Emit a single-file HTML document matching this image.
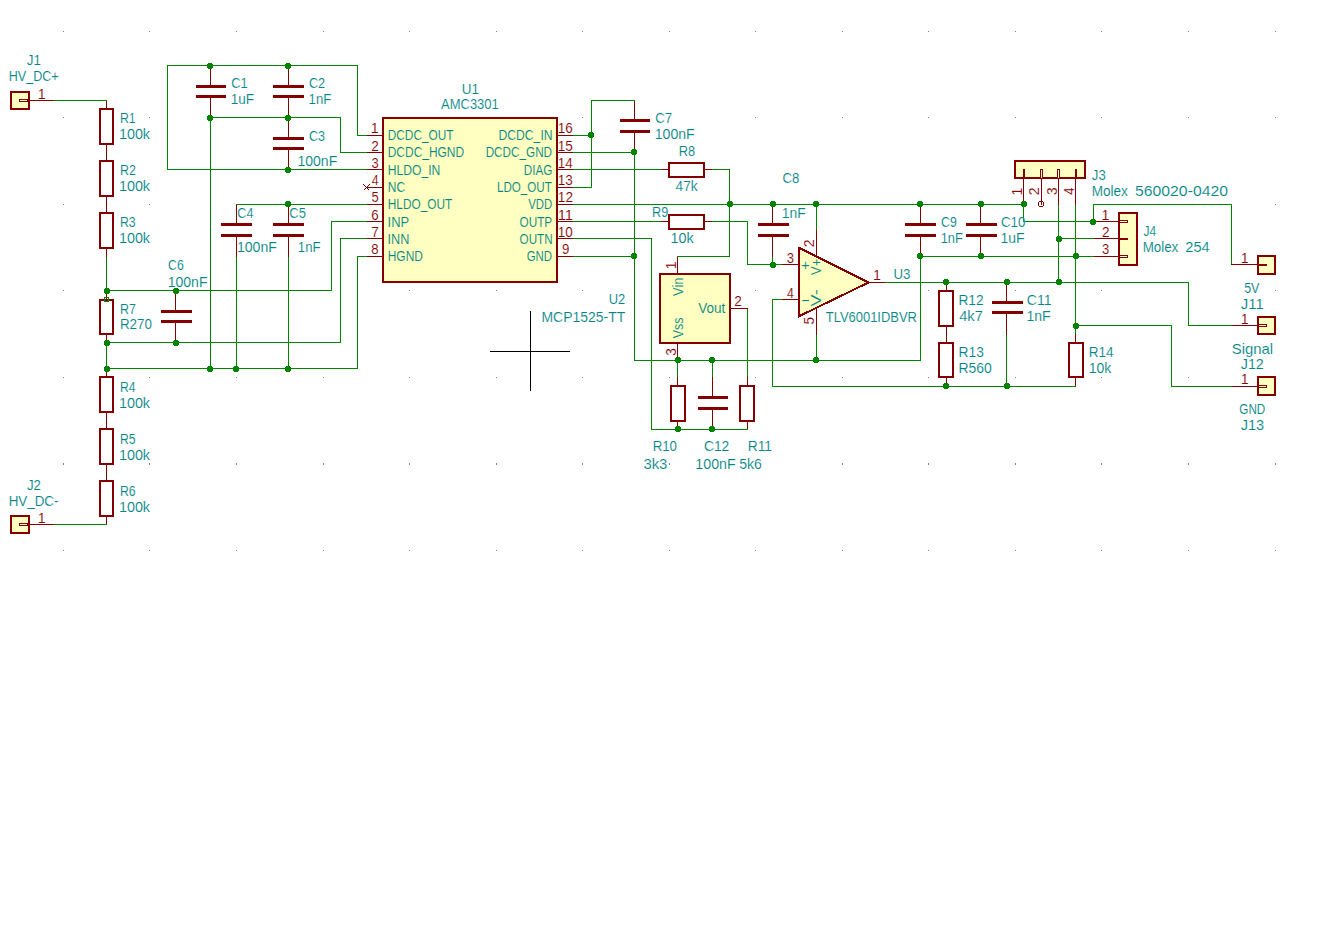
<!DOCTYPE html>
<html lang="en">
<head>
<meta charset="utf-8">
<title>Schematic</title>
<style>
html,body{margin:0;padding:0;background:#fff;}
body{width:1337px;height:929px;overflow:hidden;}
svg{display:block;}
text{white-space:pre;}
</style>
</head>
<body>
<svg width="1337" height="929" viewBox="0 0 1337 929" shape-rendering="crispEdges">
<rect width="1337" height="929" fill="#ffffff"/>
<g fill="#848484">
<rect x="63" y="31" width="1" height="1"/>
<rect x="149" y="31" width="1" height="1"/>
<rect x="236" y="31" width="1" height="1"/>
<rect x="323" y="31" width="1" height="1"/>
<rect x="409" y="31" width="1" height="1"/>
<rect x="496" y="31" width="1" height="1"/>
<rect x="582" y="31" width="1" height="1"/>
<rect x="669" y="31" width="1" height="1"/>
<rect x="755" y="31" width="1" height="1"/>
<rect x="842" y="31" width="1" height="1"/>
<rect x="928" y="31" width="1" height="1"/>
<rect x="1015" y="31" width="1" height="1"/>
<rect x="1101" y="31" width="1" height="1"/>
<rect x="1188" y="31" width="1" height="1"/>
<rect x="1275" y="31" width="1" height="1"/>
<rect x="63" y="117" width="1" height="1"/>
<rect x="149" y="117" width="1" height="1"/>
<rect x="236" y="117" width="1" height="1"/>
<rect x="323" y="117" width="1" height="1"/>
<rect x="409" y="117" width="1" height="1"/>
<rect x="496" y="117" width="1" height="1"/>
<rect x="582" y="117" width="1" height="1"/>
<rect x="669" y="117" width="1" height="1"/>
<rect x="755" y="117" width="1" height="1"/>
<rect x="842" y="117" width="1" height="1"/>
<rect x="928" y="117" width="1" height="1"/>
<rect x="1015" y="117" width="1" height="1"/>
<rect x="1101" y="117" width="1" height="1"/>
<rect x="1188" y="117" width="1" height="1"/>
<rect x="1275" y="117" width="1" height="1"/>
<rect x="63" y="204" width="1" height="1"/>
<rect x="149" y="204" width="1" height="1"/>
<rect x="236" y="204" width="1" height="1"/>
<rect x="323" y="204" width="1" height="1"/>
<rect x="409" y="204" width="1" height="1"/>
<rect x="496" y="204" width="1" height="1"/>
<rect x="582" y="204" width="1" height="1"/>
<rect x="669" y="204" width="1" height="1"/>
<rect x="755" y="204" width="1" height="1"/>
<rect x="842" y="204" width="1" height="1"/>
<rect x="928" y="204" width="1" height="1"/>
<rect x="1015" y="204" width="1" height="1"/>
<rect x="1101" y="204" width="1" height="1"/>
<rect x="1188" y="204" width="1" height="1"/>
<rect x="1275" y="204" width="1" height="1"/>
<rect x="63" y="290" width="1" height="1"/>
<rect x="149" y="290" width="1" height="1"/>
<rect x="236" y="290" width="1" height="1"/>
<rect x="323" y="290" width="1" height="1"/>
<rect x="409" y="290" width="1" height="1"/>
<rect x="496" y="290" width="1" height="1"/>
<rect x="582" y="290" width="1" height="1"/>
<rect x="669" y="290" width="1" height="1"/>
<rect x="755" y="290" width="1" height="1"/>
<rect x="842" y="290" width="1" height="1"/>
<rect x="928" y="290" width="1" height="1"/>
<rect x="1015" y="290" width="1" height="1"/>
<rect x="1101" y="290" width="1" height="1"/>
<rect x="1188" y="290" width="1" height="1"/>
<rect x="1275" y="290" width="1" height="1"/>
<rect x="63" y="377" width="1" height="1"/>
<rect x="149" y="377" width="1" height="1"/>
<rect x="236" y="377" width="1" height="1"/>
<rect x="323" y="377" width="1" height="1"/>
<rect x="409" y="377" width="1" height="1"/>
<rect x="496" y="377" width="1" height="1"/>
<rect x="582" y="377" width="1" height="1"/>
<rect x="669" y="377" width="1" height="1"/>
<rect x="755" y="377" width="1" height="1"/>
<rect x="842" y="377" width="1" height="1"/>
<rect x="928" y="377" width="1" height="1"/>
<rect x="1015" y="377" width="1" height="1"/>
<rect x="1101" y="377" width="1" height="1"/>
<rect x="1188" y="377" width="1" height="1"/>
<rect x="1275" y="377" width="1" height="1"/>
<rect x="63" y="463" width="1" height="2"/>
<rect x="149" y="463" width="1" height="2"/>
<rect x="236" y="463" width="1" height="2"/>
<rect x="323" y="463" width="1" height="2"/>
<rect x="409" y="463" width="1" height="2"/>
<rect x="496" y="463" width="1" height="2"/>
<rect x="582" y="463" width="1" height="2"/>
<rect x="669" y="463" width="1" height="2"/>
<rect x="755" y="463" width="1" height="2"/>
<rect x="842" y="463" width="1" height="2"/>
<rect x="928" y="463" width="1" height="2"/>
<rect x="1015" y="463" width="1" height="2"/>
<rect x="1101" y="463" width="1" height="2"/>
<rect x="1188" y="463" width="1" height="2"/>
<rect x="1275" y="463" width="1" height="2"/>
<rect x="63" y="550" width="1" height="1"/>
<rect x="149" y="550" width="1" height="1"/>
<rect x="236" y="550" width="1" height="1"/>
<rect x="323" y="550" width="1" height="1"/>
<rect x="409" y="550" width="1" height="1"/>
<rect x="496" y="550" width="1" height="1"/>
<rect x="582" y="550" width="1" height="1"/>
<rect x="669" y="550" width="1" height="1"/>
<rect x="755" y="550" width="1" height="1"/>
<rect x="842" y="550" width="1" height="1"/>
<rect x="928" y="550" width="1" height="1"/>
<rect x="1015" y="550" width="1" height="1"/>
<rect x="1101" y="550" width="1" height="1"/>
<rect x="1188" y="550" width="1" height="1"/>
<rect x="1275" y="550" width="1" height="1"/>
</g>
<rect x="490" y="351" width="80" height="1" fill="#000000"/>
<rect x="530" y="311" width="1" height="80" fill="#000000"/>
<rect x="106" y="256" width="1" height="35" fill="#008400"/>
<rect x="331" y="221" width="1" height="70" fill="#008400"/>
<rect x="340" y="238" width="1" height="105" fill="#008400"/>
<rect x="106" y="342" width="1" height="27" fill="#008400"/>
<rect x="357" y="256" width="1" height="113" fill="#008400"/>
<rect x="210" y="117" width="1" height="252" fill="#008400"/>
<rect x="167" y="65" width="1" height="105" fill="#008400"/>
<rect x="357" y="65" width="1" height="71" fill="#008400"/>
<rect x="340" y="117" width="1" height="36" fill="#008400"/>
<rect x="236" y="256" width="1" height="113" fill="#008400"/>
<rect x="288" y="256" width="1" height="113" fill="#008400"/>
<rect x="591" y="100" width="1" height="88" fill="#008400"/>
<rect x="634" y="152" width="1" height="209" fill="#008400"/>
<rect x="920" y="256" width="1" height="105" fill="#008400"/>
<rect x="729" y="169" width="1" height="88" fill="#008400"/>
<rect x="747" y="221" width="1" height="44" fill="#008400"/>
<rect x="651" y="238" width="1" height="192" fill="#008400"/>
<rect x="772" y="256" width="1" height="9" fill="#008400"/>
<rect x="747" y="308" width="1" height="70" fill="#008400"/>
<rect x="677" y="360" width="1" height="18" fill="#008400"/>
<rect x="712" y="360" width="1" height="18" fill="#008400"/>
<rect x="816" y="204" width="1" height="27" fill="#008400"/>
<rect x="816" y="334" width="1" height="27" fill="#008400"/>
<rect x="772" y="299" width="1" height="88" fill="#008400"/>
<rect x="1188" y="282" width="1" height="44" fill="#008400"/>
<rect x="1006" y="334" width="1" height="53" fill="#008400"/>
<rect x="1023" y="204" width="1" height="18" fill="#008400"/>
<rect x="1093" y="204" width="1" height="18" fill="#008400"/>
<rect x="1231" y="204" width="1" height="61" fill="#008400"/>
<rect x="1058" y="204" width="1" height="79" fill="#008400"/>
<rect x="1075" y="204" width="1" height="131" fill="#008400"/>
<rect x="1171" y="325" width="1" height="62" fill="#008400"/>
<rect x="106" y="100" width="1" height="53" fill="#840000"/>
<rect x="100" y="109" width="13" height="35" fill="#ffffff" stroke="#840000" stroke-width="2"/>
<rect x="106" y="152" width="1" height="53" fill="#840000"/>
<rect x="100" y="161" width="13" height="35" fill="#ffffff" stroke="#840000" stroke-width="2"/>
<rect x="106" y="204" width="1" height="53" fill="#840000"/>
<rect x="100" y="213" width="13" height="35" fill="#ffffff" stroke="#840000" stroke-width="2"/>
<rect x="106" y="290" width="1" height="53" fill="#840000"/>
<rect x="100" y="300" width="13" height="34" fill="#ffffff" stroke="#840000" stroke-width="2"/>
<rect x="106" y="368" width="1" height="53" fill="#840000"/>
<rect x="100" y="377" width="13" height="35" fill="#ffffff" stroke="#840000" stroke-width="2"/>
<rect x="106" y="420" width="1" height="53" fill="#840000"/>
<rect x="100" y="429" width="13" height="35" fill="#ffffff" stroke="#840000" stroke-width="2"/>
<rect x="106" y="472" width="1" height="53" fill="#840000"/>
<rect x="100" y="481" width="13" height="35" fill="#ffffff" stroke="#840000" stroke-width="2"/>
<rect x="677" y="377" width="1" height="53" fill="#840000"/>
<rect x="671" y="386" width="14" height="35" fill="#ffffff" stroke="#840000" stroke-width="2"/>
<rect x="747" y="377" width="1" height="53" fill="#840000"/>
<rect x="740" y="386" width="14" height="35" fill="#ffffff" stroke="#840000" stroke-width="2"/>
<rect x="946" y="282" width="1" height="53" fill="#840000"/>
<rect x="939" y="291" width="14" height="35" fill="#ffffff" stroke="#840000" stroke-width="2"/>
<rect x="946" y="334" width="1" height="53" fill="#840000"/>
<rect x="939" y="343" width="14" height="34" fill="#ffffff" stroke="#840000" stroke-width="2"/>
<rect x="1075" y="334" width="1" height="53" fill="#840000"/>
<rect x="1069" y="343" width="14" height="34" fill="#ffffff" stroke="#840000" stroke-width="2"/>
<rect x="660" y="169" width="53" height="1" fill="#840000"/>
<rect x="669" y="163" width="35" height="14" fill="#ffffff" stroke="#840000" stroke-width="2"/>
<rect x="660" y="221" width="53" height="1" fill="#840000"/>
<rect x="669" y="215" width="35" height="14" fill="#ffffff" stroke="#840000" stroke-width="2"/>
<rect x="210" y="65" width="1" height="21" fill="#840000"/>
<rect x="210" y="96" width="1" height="22" fill="#840000"/>
<rect x="196" y="85" width="30" height="3" fill="#840000"/>
<rect x="196" y="95" width="30" height="3" fill="#840000"/>
<rect x="288" y="65" width="1" height="21" fill="#840000"/>
<rect x="288" y="96" width="1" height="22" fill="#840000"/>
<rect x="273" y="85" width="31" height="3" fill="#840000"/>
<rect x="273" y="95" width="31" height="3" fill="#840000"/>
<rect x="288" y="117" width="1" height="21" fill="#840000"/>
<rect x="288" y="148" width="1" height="22" fill="#840000"/>
<rect x="273" y="137" width="31" height="3" fill="#840000"/>
<rect x="273" y="147" width="31" height="3" fill="#840000"/>
<rect x="236" y="204" width="1" height="20" fill="#840000"/>
<rect x="236" y="235" width="1" height="22" fill="#840000"/>
<rect x="221" y="223" width="31" height="3" fill="#840000"/>
<rect x="221" y="234" width="31" height="3" fill="#840000"/>
<rect x="288" y="204" width="1" height="20" fill="#840000"/>
<rect x="288" y="235" width="1" height="22" fill="#840000"/>
<rect x="273" y="223" width="31" height="3" fill="#840000"/>
<rect x="273" y="234" width="31" height="3" fill="#840000"/>
<rect x="175" y="290" width="1" height="21" fill="#840000"/>
<rect x="175" y="321" width="1" height="22" fill="#840000"/>
<rect x="161" y="310" width="31" height="3" fill="#840000"/>
<rect x="161" y="320" width="31" height="3" fill="#840000"/>
<rect x="634" y="100" width="1" height="20" fill="#840000"/>
<rect x="634" y="131" width="1" height="22" fill="#840000"/>
<rect x="620" y="119" width="30" height="3" fill="#840000"/>
<rect x="620" y="130" width="30" height="3" fill="#840000"/>
<rect x="772" y="204" width="1" height="20" fill="#840000"/>
<rect x="772" y="235" width="1" height="22" fill="#840000"/>
<rect x="758" y="223" width="31" height="3" fill="#840000"/>
<rect x="758" y="234" width="31" height="3" fill="#840000"/>
<rect x="712" y="377" width="1" height="20" fill="#840000"/>
<rect x="712" y="408" width="1" height="22" fill="#840000"/>
<rect x="698" y="396" width="30" height="3" fill="#840000"/>
<rect x="698" y="407" width="30" height="3" fill="#840000"/>
<rect x="920" y="204" width="1" height="20" fill="#840000"/>
<rect x="920" y="235" width="1" height="22" fill="#840000"/>
<rect x="905" y="223" width="31" height="3" fill="#840000"/>
<rect x="905" y="234" width="31" height="3" fill="#840000"/>
<rect x="980" y="204" width="1" height="20" fill="#840000"/>
<rect x="980" y="235" width="1" height="22" fill="#840000"/>
<rect x="966" y="223" width="31" height="3" fill="#840000"/>
<rect x="966" y="234" width="31" height="3" fill="#840000"/>
<rect x="1006" y="282" width="1" height="20" fill="#840000"/>
<rect x="1006" y="312" width="1" height="23" fill="#840000"/>
<rect x="992" y="301" width="31" height="3" fill="#840000"/>
<rect x="992" y="311" width="31" height="3" fill="#840000"/>
<rect x="28" y="100" width="27" height="1" fill="#840000"/>
<rect x="11" y="92" width="18" height="17" fill="#ffffc2" stroke="#840000" stroke-width="2"/>
<rect x="19.5" y="99.5" width="8" height="2" fill="#ffffe0" stroke="#840000" stroke-width="1"/>
<rect x="28" y="524" width="27" height="1" fill="#840000"/>
<rect x="11" y="516" width="18" height="17" fill="#ffffc2" stroke="#840000" stroke-width="2"/>
<rect x="19.5" y="523.5" width="8" height="2" fill="#ffffe0" stroke="#840000" stroke-width="1"/>
<rect x="1231" y="264" width="27" height="1" fill="#840000"/>
<rect x="1258" y="256" width="17" height="18" fill="#ffffc2" stroke="#840000" stroke-width="2"/>
<rect x="1258" y="264" width="9" height="2" fill="#840000"/>
<rect x="1231" y="325" width="27" height="1" fill="#840000"/>
<rect x="1258" y="317" width="17" height="17" fill="#ffffc2" stroke="#840000" stroke-width="2"/>
<rect x="1258.5" y="324.5" width="8" height="2" fill="#ffffe0" stroke="#840000" stroke-width="1"/>
<rect x="1231" y="386" width="27" height="1" fill="#840000"/>
<rect x="1258" y="377" width="17" height="18" fill="#ffffc2" stroke="#840000" stroke-width="2"/>
<rect x="1258.5" y="385.5" width="8" height="2" fill="#ffffe0" stroke="#840000" stroke-width="1"/>
<rect x="383" y="118" width="174" height="164" fill="#ffffc2" stroke="#840000" stroke-width="2"/>
<rect x="366" y="135" width="17" height="1" fill="#840000"/>
<rect x="557" y="135" width="17" height="1" fill="#840000"/>
<rect x="366" y="152" width="17" height="1" fill="#840000"/>
<rect x="557" y="152" width="17" height="1" fill="#840000"/>
<rect x="366" y="169" width="17" height="1" fill="#840000"/>
<rect x="557" y="169" width="17" height="1" fill="#840000"/>
<rect x="366" y="187" width="17" height="1" fill="#840000"/>
<rect x="557" y="187" width="17" height="1" fill="#840000"/>
<rect x="366" y="204" width="17" height="1" fill="#840000"/>
<rect x="557" y="204" width="17" height="1" fill="#840000"/>
<rect x="366" y="221" width="17" height="1" fill="#840000"/>
<rect x="557" y="221" width="17" height="1" fill="#840000"/>
<rect x="366" y="238" width="17" height="1" fill="#840000"/>
<rect x="557" y="238" width="17" height="1" fill="#840000"/>
<rect x="366" y="256" width="17" height="1" fill="#840000"/>
<rect x="557" y="256" width="17" height="1" fill="#840000"/>
<path d="M363.5 184.5l6 6m0 -6l-6 6" stroke="#840000" stroke-width="1" fill="none"/>
<rect x="660" y="274" width="70" height="69" fill="#ffffc2" stroke="#840000" stroke-width="2"/>
<rect x="677" y="256" width="1" height="18" fill="#840000"/>
<rect x="677" y="342" width="1" height="19" fill="#840000"/>
<rect x="729" y="308" width="19" height="1" fill="#840000"/>
<rect x="781" y="264" width="18" height="1" fill="#840000"/>
<rect x="781" y="299" width="18" height="1" fill="#840000"/>
<rect x="868" y="282" width="18" height="1" fill="#840000"/>
<rect x="816" y="230" width="1" height="27" fill="#840000"/>
<rect x="816" y="308" width="1" height="27" fill="#840000"/>
<path d="M798.5 247.5L868.5 282.5L798.5 316.5Z" fill="#ffffc2" stroke="#840000" stroke-width="2" stroke-linejoin="round"/>
<rect x="1015" y="161" width="70" height="17" fill="#ffffc2" stroke="#840000" stroke-width="2"/>
<rect x="1023" y="178" width="1" height="27" fill="#840000"/>
<rect x="1023" y="169" width="2" height="10" fill="#840000"/>
<rect x="1041" y="178" width="1" height="27" fill="#840000"/>
<rect x="1040.5" y="169.5" width="2" height="9" fill="#ffffe0" stroke="#840000" stroke-width="1"/>
<rect x="1058" y="178" width="1" height="27" fill="#840000"/>
<rect x="1057.5" y="169.5" width="2" height="9" fill="#ffffe0" stroke="#840000" stroke-width="1"/>
<rect x="1075" y="178" width="1" height="27" fill="#840000"/>
<rect x="1075" y="169" width="2" height="10" fill="#840000"/>
<path d="M1039 201h4v1h1v4h-1v1h-4v-1h-1v-4h1zm0 1v4h4v-4z" fill="#840000" fill-rule="evenodd"/>
<rect x="1119" y="213" width="18" height="52" fill="#ffffc2" stroke="#840000" stroke-width="2"/>
<rect x="1093" y="221" width="27" height="1" fill="#840000"/>
<rect x="1119.5" y="220.5" width="8" height="2" fill="#ffffe0" stroke="#840000" stroke-width="1"/>
<rect x="1093" y="238" width="27" height="1" fill="#840000"/>
<rect x="1119" y="238" width="9" height="2" fill="#840000"/>
<rect x="1093" y="256" width="27" height="1" fill="#840000"/>
<rect x="1119.5" y="255.5" width="8" height="2" fill="#ffffe0" stroke="#840000" stroke-width="1"/>
<rect x="104.5" y="297.5" width="4" height="4" fill="none" stroke="#008400" stroke-width="1"/>
<rect x="54" y="100" width="53" height="1" fill="#008400"/>
<rect x="106" y="290" width="226" height="1" fill="#008400"/>
<rect x="331" y="221" width="36" height="1" fill="#008400"/>
<rect x="106" y="342" width="235" height="1" fill="#008400"/>
<rect x="340" y="238" width="27" height="1" fill="#008400"/>
<rect x="106" y="368" width="252" height="1" fill="#008400"/>
<rect x="357" y="256" width="10" height="1" fill="#008400"/>
<rect x="54" y="524" width="53" height="1" fill="#008400"/>
<rect x="167" y="65" width="191" height="1" fill="#008400"/>
<rect x="357" y="135" width="10" height="1" fill="#008400"/>
<rect x="167" y="169" width="200" height="1" fill="#008400"/>
<rect x="210" y="117" width="131" height="1" fill="#008400"/>
<rect x="340" y="152" width="27" height="1" fill="#008400"/>
<rect x="236" y="204" width="131" height="1" fill="#008400"/>
<rect x="573" y="135" width="19" height="1" fill="#008400"/>
<rect x="573" y="187" width="19" height="1" fill="#008400"/>
<rect x="591" y="100" width="44" height="1" fill="#008400"/>
<rect x="573" y="152" width="62" height="1" fill="#008400"/>
<rect x="634" y="360" width="287" height="1" fill="#008400"/>
<rect x="573" y="256" width="62" height="1" fill="#008400"/>
<rect x="573" y="169" width="88" height="1" fill="#008400"/>
<rect x="712" y="169" width="18" height="1" fill="#008400"/>
<rect x="677" y="256" width="53" height="1" fill="#008400"/>
<rect x="573" y="204" width="451" height="1" fill="#008400"/>
<rect x="573" y="221" width="88" height="1" fill="#008400"/>
<rect x="712" y="221" width="36" height="1" fill="#008400"/>
<rect x="747" y="264" width="35" height="1" fill="#008400"/>
<rect x="573" y="238" width="79" height="1" fill="#008400"/>
<rect x="651" y="429" width="97" height="1" fill="#008400"/>
<rect x="772" y="299" width="10" height="1" fill="#008400"/>
<rect x="772" y="386" width="304" height="1" fill="#008400"/>
<rect x="885" y="282" width="304" height="1" fill="#008400"/>
<rect x="1188" y="325" width="44" height="1" fill="#008400"/>
<rect x="920" y="256" width="174" height="1" fill="#008400"/>
<rect x="1023" y="221" width="71" height="1" fill="#008400"/>
<rect x="1093" y="204" width="139" height="1" fill="#008400"/>
<rect x="1058" y="238" width="36" height="1" fill="#008400"/>
<rect x="1075" y="325" width="97" height="1" fill="#008400"/>
<rect x="1171" y="386" width="61" height="1" fill="#008400"/>
<path d="M105 288h4v1h1v4h-1v1h-4v-1h-1v-4h1z" fill="#008400"/>
<path d="M174 288h4v1h1v4h-1v1h-4v-1h-1v-4h1z" fill="#008400"/>
<path d="M174 340h4v1h1v4h-1v1h-4v-1h-1v-4h1z" fill="#008400"/>
<path d="M105 340h4v1h1v4h-1v1h-4v-1h-1v-4h1z" fill="#008400"/>
<path d="M105 366h4v1h1v4h-1v1h-4v-1h-1v-4h1z" fill="#008400"/>
<path d="M208 366h4v1h1v4h-1v1h-4v-1h-1v-4h1z" fill="#008400"/>
<path d="M234 366h4v1h1v4h-1v1h-4v-1h-1v-4h1z" fill="#008400"/>
<path d="M286 366h4v1h1v4h-1v1h-4v-1h-1v-4h1z" fill="#008400"/>
<path d="M208 63h4v1h1v4h-1v1h-4v-1h-1v-4h1z" fill="#008400"/>
<path d="M286 63h4v1h1v4h-1v1h-4v-1h-1v-4h1z" fill="#008400"/>
<path d="M208 115h4v1h1v4h-1v1h-4v-1h-1v-4h1z" fill="#008400"/>
<path d="M286 115h4v1h1v4h-1v1h-4v-1h-1v-4h1z" fill="#008400"/>
<path d="M286 167h4v1h1v4h-1v1h-4v-1h-1v-4h1z" fill="#008400"/>
<path d="M286 201h4v1h1v4h-1v1h-4v-1h-1v-4h1z" fill="#008400"/>
<path d="M589 132h4v1h1v4h-1v1h-4v-1h-1v-4h1z" fill="#008400"/>
<path d="M632 149h4v1h1v4h-1v1h-4v-1h-1v-4h1z" fill="#008400"/>
<path d="M632 253h4v1h1v4h-1v1h-4v-1h-1v-4h1z" fill="#008400"/>
<path d="M728 201h4v1h1v4h-1v1h-4v-1h-1v-4h1z" fill="#008400"/>
<path d="M771 201h4v1h1v4h-1v1h-4v-1h-1v-4h1z" fill="#008400"/>
<path d="M814 201h4v1h1v4h-1v1h-4v-1h-1v-4h1z" fill="#008400"/>
<path d="M918 201h4v1h1v4h-1v1h-4v-1h-1v-4h1z" fill="#008400"/>
<path d="M979 201h4v1h1v4h-1v1h-4v-1h-1v-4h1z" fill="#008400"/>
<path d="M1022 201h4v1h1v4h-1v1h-4v-1h-1v-4h1z" fill="#008400"/>
<path d="M771 262h4v1h1v4h-1v1h-4v-1h-1v-4h1z" fill="#008400"/>
<path d="M676 357h4v1h1v4h-1v1h-4v-1h-1v-4h1z" fill="#008400"/>
<path d="M710 357h4v1h1v4h-1v1h-4v-1h-1v-4h1z" fill="#008400"/>
<path d="M814 357h4v1h1v4h-1v1h-4v-1h-1v-4h1z" fill="#008400"/>
<path d="M676 426h4v1h1v4h-1v1h-4v-1h-1v-4h1z" fill="#008400"/>
<path d="M710 426h4v1h1v4h-1v1h-4v-1h-1v-4h1z" fill="#008400"/>
<path d="M918 253h4v1h1v4h-1v1h-4v-1h-1v-4h1z" fill="#008400"/>
<path d="M979 253h4v1h1v4h-1v1h-4v-1h-1v-4h1z" fill="#008400"/>
<path d="M1074 253h4v1h1v4h-1v1h-4v-1h-1v-4h1z" fill="#008400"/>
<path d="M1091 219h4v1h1v4h-1v1h-4v-1h-1v-4h1z" fill="#008400"/>
<path d="M1057 236h4v1h1v4h-1v1h-4v-1h-1v-4h1z" fill="#008400"/>
<path d="M1057 279h4v1h1v4h-1v1h-4v-1h-1v-4h1z" fill="#008400"/>
<path d="M944 279h4v1h1v4h-1v1h-4v-1h-1v-4h1z" fill="#008400"/>
<path d="M1005 279h4v1h1v4h-1v1h-4v-1h-1v-4h1z" fill="#008400"/>
<path d="M944 383h4v1h1v4h-1v1h-4v-1h-1v-4h1z" fill="#008400"/>
<path d="M1005 383h4v1h1v4h-1v1h-4v-1h-1v-4h1z" fill="#008400"/>
<path d="M1074 323h4v1h1v4h-1v1h-4v-1h-1v-4h1z" fill="#008400"/>
<g font-family='"Liberation Sans", sans-serif' font-size="14" stroke="#ffffff" stroke-width="0.12" stroke-linejoin="round">
<text transform="translate(26.7 65.2) scale(0.962 1)" fill="#008484">J1</text>
<text transform="translate(8.8 81) scale(0.897 1)" fill="#008484">HV_DC+</text>
<text transform="translate(27 489.8) scale(0.945 1)" fill="#008484">J2</text>
<text transform="translate(8.63 506) scale(0.958 1)" fill="#008484">HV_DC-</text>
<text transform="translate(120.02 123.1) scale(0.876 1)" fill="#008484">R1</text>
<text transform="translate(118.92 139) scale(1.026 1)" fill="#008484">100k</text>
<text transform="translate(120.01 175.1) scale(0.880 1)" fill="#008484">R2</text>
<text transform="translate(118.92 191) scale(1.026 1)" fill="#008484">100k</text>
<text transform="translate(120.02 227) scale(0.872 1)" fill="#008484">R3</text>
<text transform="translate(118.92 242.9) scale(1.026 1)" fill="#008484">100k</text>
<text transform="translate(120.03 391.8) scale(0.865 1)" fill="#008484">R4</text>
<text transform="translate(118.92 407.7) scale(1.026 1)" fill="#008484">100k</text>
<text transform="translate(120.02 443.8) scale(0.872 1)" fill="#008484">R5</text>
<text transform="translate(118.92 459.7) scale(1.026 1)" fill="#008484">100k</text>
<text transform="translate(120.02 495.7) scale(0.872 1)" fill="#008484">R6</text>
<text transform="translate(118.92 511.6) scale(1.026 1)" fill="#008484">100k</text>
<text transform="translate(120.01 314) scale(0.886 1)" fill="#008484">R7</text>
<text transform="translate(119.93 329.1) scale(0.954 1)" fill="#008484">R270</text>
<text transform="translate(231.16 88.4) scale(0.920 1)" fill="#008484">C1</text>
<text transform="translate(230.78 104.3) scale(0.970 1)" fill="#008484">1uF</text>
<text transform="translate(308.97 88.4) scale(0.906 1)" fill="#008484">C2</text>
<text transform="translate(308.61 104.3) scale(0.939 1)" fill="#008484">1nF</text>
<text transform="translate(308.97 140.5) scale(0.898 1)" fill="#008484">C3</text>
<text transform="translate(297.45 165.7) scale(1.003 1)" fill="#008484">100nF</text>
<text transform="translate(237.37 218.1) scale(0.897 1)" fill="#008484">C4</text>
<text transform="translate(236.94 252.2) scale(1.006 1)" fill="#008484">100nF</text>
<text transform="translate(289.35 218.1) scale(0.928 1)" fill="#008484">C5</text>
<text transform="translate(297.81 252.2) scale(0.943 1)" fill="#008484">1nF</text>
<text transform="translate(168.08 270) scale(0.880 1)" fill="#008484">C6</text>
<text transform="translate(167.64 287.2) scale(1.006 1)" fill="#008484">100nF</text>
<text transform="translate(461.69 94) scale(0.959 1)" fill="#008484">U1</text>
<text transform="translate(441.1 109.1) scale(0.927 1)" fill="#008484">AMC3301</text>
<text transform="translate(655.14 123) scale(0.942 1)" fill="#008484">C7</text>
<text transform="translate(654.74 139) scale(1.008 1)" fill="#008484">100nF</text>
<text transform="translate(678.77 155.8) scale(0.915 1)" fill="#008484">R8</text>
<text transform="translate(675.53 190.9) scale(0.979 1)" fill="#008484">47k</text>
<text transform="translate(651.98 216.7) scale(0.907 1)" fill="#008484">R9</text>
<text transform="translate(670.62 243) scale(1.028 1)" fill="#008484">10k</text>
<text transform="translate(782.44 182.6) scale(0.940 1)" fill="#008484">C8</text>
<text transform="translate(781.87 218.1) scale(0.984 1)" fill="#008484">1nF</text>
<text transform="translate(608.73 304) scale(0.925 1)" fill="#008484">U2</text>
<text transform="translate(541.48 322.1) scale(0.998 1)" fill="#008484">MCP1525-TT</text>
<text transform="translate(893.5 278.8) scale(0.948 1)" fill="#008484">U3</text>
<text transform="translate(825.74 322) scale(0.926 1)" fill="#008484">TLV6001IDBVR</text>
<text transform="translate(941.08 226.8) scale(0.884 1)" fill="#008484">C9</text>
<text transform="translate(940.74 243) scale(0.917 1)" fill="#008484">1nF</text>
<text transform="translate(1000.93 226.8) scale(0.955 1)" fill="#008484">C10</text>
<text transform="translate(1000.55 243) scale(0.997 1)" fill="#008484">1uF</text>
<text transform="translate(958.4 304.5) scale(0.980 1)" fill="#008484">R12</text>
<text transform="translate(959.21 320.8) scale(1.044 1)" fill="#008484">4k7</text>
<text transform="translate(958.49 356.8) scale(0.987 1)" fill="#008484">R13</text>
<text transform="translate(958.48 373) scale(0.998 1)" fill="#008484">R560</text>
<text transform="translate(1026.8 304.5) scale(1.004 1)" fill="#008484">C11</text>
<text transform="translate(1026.45 320.8) scale(1.001 1)" fill="#008484">1nF</text>
<text transform="translate(1088.71 357.3) scale(0.969 1)" fill="#008484">R14</text>
<text transform="translate(1088.75 373.3) scale(1.000 1)" fill="#008484">10k</text>
<text transform="translate(1091.8 179.6) scale(0.943 1)" fill="#008484">J3</text>
<text y="195.9" fill="#008484"><tspan x="1091.71" textLength="36.19" lengthAdjust="spacingAndGlyphs">Molex</tspan> <tspan x="1135.07" textLength="92.88" lengthAdjust="spacingAndGlyphs">560020-0420</tspan></text>
<text transform="translate(1143.42 236.1) scale(0.856 1)" fill="#008484">J4</text>
<text y="252" fill="#008484"><tspan x="1142.63" textLength="35.67" lengthAdjust="spacingAndGlyphs">Molex</tspan> <tspan x="1185.37" textLength="24.32" lengthAdjust="spacingAndGlyphs">254</tspan></text>
<text transform="translate(1244.2 292.7) scale(0.888 1)" fill="#008484">5V</text>
<text transform="translate(1240.78 308.9) scale(1.065 1)" fill="#008484">J11</text>
<text transform="translate(1231.73 354) scale(1.065 1)" fill="#008484">Signal</text>
<text transform="translate(1240.79 369.3) scale(1.017 1)" fill="#008484">J12</text>
<text transform="translate(1239.32 413.9) scale(0.834 1)" fill="#008484">GND</text>
<text transform="translate(1240.78 429.8) scale(1.038 1)" fill="#008484">J13</text>
<text transform="translate(652.64 451.4) scale(0.947 1)" fill="#008484">R10</text>
<text transform="translate(643.4 469.2) scale(1.064 1)" fill="#008484">3k3</text>
<text transform="translate(703.91 451.4) scale(0.988 1)" fill="#008484">C12</text>
<text transform="translate(695.33 469.2) scale(1.016 1)" fill="#008484">100nF</text>
<text transform="translate(747.7 451.4) scale(0.983 1)" fill="#008484">R11</text>
<text transform="translate(739.24 469.2) scale(1.004 1)" fill="#008484">5k6</text>
<text transform="translate(387.75 139.97) scale(0.840 1)" fill="#008484" stroke="#ffffc2" font-size="14.1">DCDC_OUT</text>
<text transform="translate(498.53 139.97) scale(0.862 1)" fill="#008484" stroke="#ffffc2" font-size="14.1">DCDC_IN</text>
<text transform="translate(387.74 157.28) scale(0.849 1)" fill="#008484" stroke="#ffffc2" font-size="14.1">DCDC_HGND</text>
<text transform="translate(485.66 157.28) scale(0.832 1)" fill="#008484" stroke="#ffffc2" font-size="14.1">DCDC_GND</text>
<text transform="translate(387.73 174.59) scale(0.861 1)" fill="#008484" stroke="#ffffc2" font-size="14.1">HLDO_IN</text>
<text transform="translate(523.86 174.59) scale(0.830 1)" fill="#008484" stroke="#ffffc2" font-size="14.1">DIAG</text>
<text transform="translate(387.74 191.9) scale(0.851 1)" fill="#008484" stroke="#ffffc2" font-size="14.1">NC</text>
<text transform="translate(496.97 191.9) scale(0.824 1)" fill="#008484" stroke="#ffffc2" font-size="14.1">LDO_OUT</text>
<text transform="translate(387.75 209.21) scale(0.840 1)" fill="#008484" stroke="#ffffc2" font-size="14.1">HLDO_OUT</text>
<text transform="translate(528.14 209.21) scale(0.806 1)" fill="#008484" stroke="#ffffc2" font-size="14.1">VDD</text>
<text transform="translate(387.54 226.52) scale(0.916 1)" fill="#008484" stroke="#ffffc2" font-size="14.1">INP</text>
<text transform="translate(519.57 226.52) scale(0.834 1)" fill="#008484" stroke="#ffffc2" font-size="14.1">OUTP</text>
<text transform="translate(387.56 243.83) scale(0.901 1)" fill="#008484" stroke="#ffffc2" font-size="14.1">INN</text>
<text transform="translate(519.58 243.83) scale(0.826 1)" fill="#008484" stroke="#ffffc2" font-size="14.1">OUTN</text>
<text transform="translate(387.74 261.14) scale(0.849 1)" fill="#008484" stroke="#ffffc2" font-size="14.1">HGND</text>
<text transform="translate(526.73 261.14) scale(0.811 1)" fill="#008484" stroke="#ffffc2" font-size="14.1">GND</text>
<text transform="translate(698.13 313) scale(0.969 1)" fill="#008484" stroke="#ffffc2">Vout</text>
<text transform="translate(682.5 295.96) rotate(-90) scale(0.928 1)" fill="#008484" stroke="#ffffc2">Vin</text>
<text transform="translate(682.5 338.26) rotate(-90) scale(0.888 1)" fill="#008484" stroke="#ffffc2">Vss</text>
<text transform="translate(801.28 270) scale(1.031 1)" fill="#008484" stroke="#ffffc2">+</text>
<text transform="translate(800.71 304.6) scale(2.041 1)" fill="#008484" stroke="#ffffc2">-</text>
<text transform="translate(821 274.96) rotate(-90) scale(0.921 1)" fill="#008484" stroke="#ffffc2">V+</text>
<text transform="translate(821 306.39) rotate(-90) scale(1.293 1)" fill="#008484" stroke="#ffffc2">V-</text>
<text transform="translate(370.83 133.22) scale(1.018 1)" fill="#840000">1</text>
<text transform="translate(557.83 133.22) scale(0.969 1)" fill="#840000">16</text>
<text transform="translate(371.22 150.53) scale(0.973 1)" fill="#840000">2</text>
<text transform="translate(557.83 150.53) scale(0.969 1)" fill="#840000">15</text>
<text transform="translate(371.38 167.84) scale(0.932 1)" fill="#840000">3</text>
<text transform="translate(557.84 167.84) scale(0.959 1)" fill="#840000">14</text>
<text transform="translate(371.65 185.15) scale(0.877 1)" fill="#840000">4</text>
<text transform="translate(557.83 185.15) scale(0.969 1)" fill="#840000">13</text>
<text transform="translate(371.38 202.46) scale(0.932 1)" fill="#840000">5</text>
<text transform="translate(557.82 202.46) scale(0.979 1)" fill="#840000">12</text>
<text transform="translate(371.23 219.77) scale(0.952 1)" fill="#840000">6</text>
<text transform="translate(557.74 219.77) scale(1.054 1)" fill="#840000">11</text>
<text transform="translate(371.22 237.08) scale(0.973 1)" fill="#840000">7</text>
<text transform="translate(557.84 237.08) scale(0.964 1)" fill="#840000">10</text>
<text transform="translate(371.31 254.39) scale(0.942 1)" fill="#840000">8</text>
<text transform="translate(561.9 254.39) scale(0.952 1)" fill="#840000">9</text>
<text transform="translate(37.73 98.6) scale(1.018 1)" fill="#840000">1</text>
<text transform="translate(37.73 522.7) scale(1.018 1)" fill="#840000">1</text>
<text transform="translate(1240.83 263.05) scale(1.018 1)" fill="#840000">1</text>
<text transform="translate(1240.83 323.64) scale(1.018 1)" fill="#840000">1</text>
<text transform="translate(1240.83 384.22) scale(1.018 1)" fill="#840000">1</text>
<text transform="translate(1101.53 219.77) scale(1.018 1)" fill="#840000">1</text>
<text transform="translate(1101.92 237.08) scale(0.973 1)" fill="#840000">2</text>
<text transform="translate(1102.08 254.39) scale(0.932 1)" fill="#840000">3</text>
<text transform="translate(786.68 263.05) scale(0.932 1)" fill="#840000">3</text>
<text transform="translate(786.95 297.67) scale(0.877 1)" fill="#840000">4</text>
<text transform="translate(872.93 280.36) scale(1.018 1)" fill="#840000">1</text>
<text transform="translate(734.32 306.32) scale(0.973 1)" fill="#840000">2</text>
<text transform="translate(814.35 247.16) rotate(-90) scale(1.020 1)" fill="#840000">2</text>
<text transform="translate(814.35 324.6) rotate(-90) scale(0.977 1)" fill="#840000">5</text>
<text transform="translate(675.86 269.47) rotate(-90) scale(1.067 1)" fill="#840000">1</text>
<text transform="translate(675.86 355.8) rotate(-90) scale(0.977 1)" fill="#840000">3</text>
<text transform="translate(1022.07 195.67) rotate(-90) scale(1.067 1)" fill="#840000">1</text>
<text transform="translate(1039.38 195.26) rotate(-90) scale(1.020 1)" fill="#840000">2</text>
<text transform="translate(1056.69 195.1) rotate(-90) scale(0.977 1)" fill="#840000">3</text>
<text transform="translate(1074 194.81) rotate(-90) scale(0.919 1)" fill="#840000">4</text>
</g>
</svg>
</body>
</html>
